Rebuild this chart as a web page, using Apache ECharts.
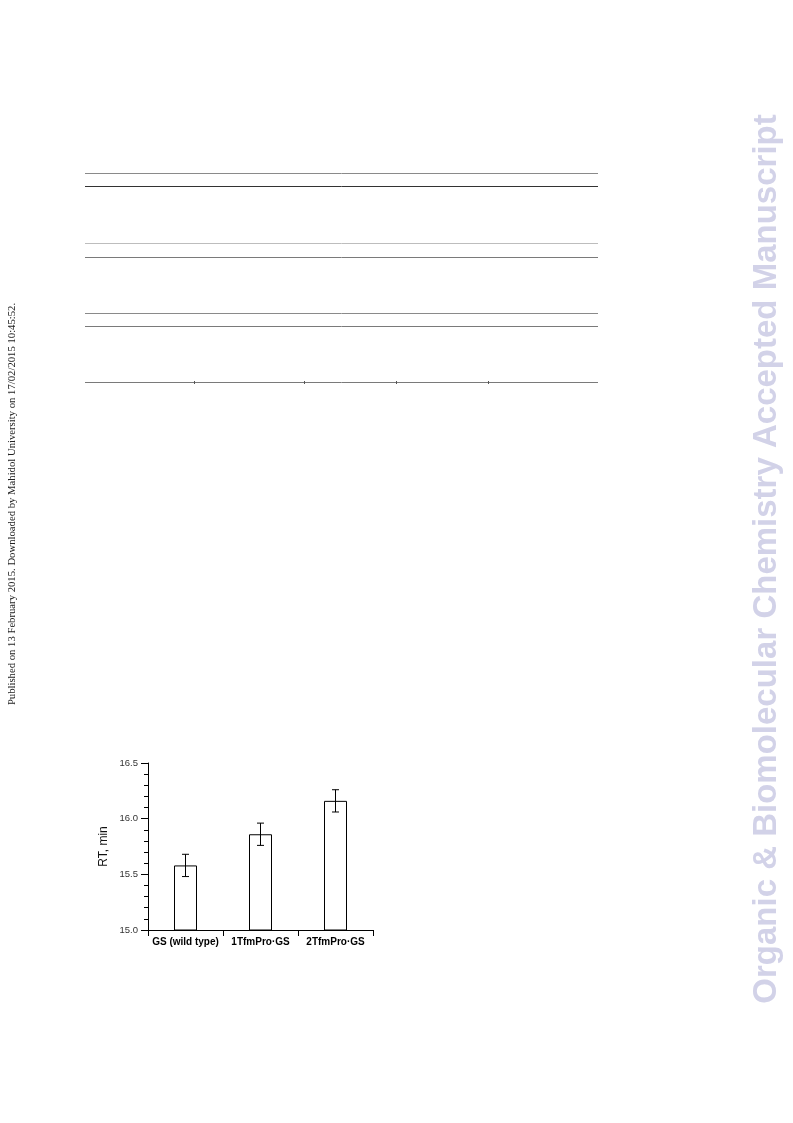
<!DOCTYPE html>
<html>
<head>
<meta charset="utf-8">
<script src="https://cdn.jsdelivr.net/npm/echarts@6/dist/echarts.min.js"></script>
<style>
html,body{margin:0;padding:0;background:#fff;}
#chart{width:793px;height:1123px;}
</style>
</head>
<body>
<div id="chart"></div>
<script>
// Data
var categories = ['GS (wild type)', '1TfmPro\u00B7GS', '2TfmPro\u00B7GS'];
var rtValues = [15.58, 15.86, 16.16];
var rtErrors = [0.10, 0.10, 0.10];
var yTicks = { min: 15.0, max: 16.5, interval: 0.5 };
var yAxisName = 'RT, min';
var sideNote = 'Published on 13 February 2015. Downloaded by Mahidol University on 17/02/2015 10:45:52.';
var watermark = 'Organic & Biomolecular Chemistry Accepted Manuscript';

var errorData = categories.map(function (c, i) {
  return [i, rtValues[i] - rtErrors[i], rtValues[i] + rtErrors[i]];
});

// Decorative table rules at the top of the page
var rules = [
  { y: 173, c: '#8a8a8a' },
  { y: 186, c: '#333333' },
  { y: 243, c: '#bdbdbd' },
  { y: 257, c: '#7a7a7a' },
  { y: 313, c: '#8a8a8a' },
  { y: 326, c: '#7a7a7a' },
  { y: 382, c: '#7a7a7a' }
];
var graphics = rules.map(function (r) {
  return { type: 'line', silent: true, shape: { x1: 85, y1: r.y + 0.5, x2: 598, y2: r.y + 0.5 }, style: { stroke: r.c, lineWidth: 1 } };
});
[194, 304, 396, 488].forEach(function (x) {
  graphics.push({ type: 'line', silent: true, shape: { x1: x + 0.5, y1: 381, x2: x + 0.5, y2: 384 }, style: { stroke: '#555', lineWidth: 1 } });
});
graphics.push({
  type: 'text', silent: true, x: 12, y: 504, rotation: Math.PI / 2,
  style: { text: sideNote, font: '10.7px "Liberation Serif", "Times New Roman", serif', fill: '#222', textAlign: 'center', textVerticalAlign: 'middle' }
});
graphics.push({
  type: 'text', silent: true, x: 767, y: 559, rotation: Math.PI / 2,
  style: { text: watermark, font: 'bold 33px "Liberation Sans", Arial, sans-serif', fill: '#d2d2e8', textAlign: 'center', textVerticalAlign: 'middle' }
});

var chart = echarts.init(document.getElementById('chart'), null, { renderer: 'canvas' });
chart.setOption({
  animation: false,
  backgroundColor: '#fff',
  graphic: graphics,
  grid: { left: 148, right: 420, top: 763, bottom: 193, containLabel: false },
  xAxis: {
    type: 'category',
    data: categories,
    boundaryGap: true,
    axisLine: { lineStyle: { color: '#000', width: 1 } },
    axisTick: { show: true, length: 6, inside: false, lineStyle: { color: '#000' } },
    axisLabel: { interval: 0, color: '#000', fontWeight: 'bold', fontSize: 10, fontFamily: '"Liberation Sans", Arial, sans-serif', margin: 7 }
  },
  yAxis: {
    type: 'value',
    min: yTicks.min,
    max: yTicks.max,
    interval: yTicks.interval,
    name: yAxisName,
    nameLocation: 'middle',
    nameGap: 38,
    nameTextStyle: { color: '#111', fontSize: 12, fontFamily: '"Liberation Sans", Arial, sans-serif' },
    axisLine: { show: true, lineStyle: { color: '#000', width: 1 } },
    axisTick: { show: true, length: 7, lineStyle: { color: '#000' } },
    minorTick: { show: true, splitNumber: 5, length: 4, lineStyle: { color: '#000' } },
    splitLine: { show: false },
    axisLabel: { color: '#333', fontSize: 9.5, fontFamily: '"Liberation Sans", Arial, sans-serif', margin: 10,
      formatter: function (v) { return v.toFixed(1); } }
  },
  series: [
    {
      type: 'bar',
      data: rtValues,
      barWidth: 23,
      itemStyle: { color: '#fff', borderColor: '#000', borderWidth: 1 }
    },
    {
      type: 'custom',
      data: errorData,
      z: 10,
      renderItem: function (params, api) {
        var x = api.coord([api.value(0), api.value(1)])[0];
        var lo = api.coord([api.value(0), api.value(1)])[1];
        var hi = api.coord([api.value(0), api.value(2)])[1];
        var w = 3.5;
        var style = { stroke: '#000', lineWidth: 1 };
        return {
          type: 'group',
          children: [
            { type: 'line', shape: { x1: x, y1: lo, x2: x, y2: hi }, style: style },
            { type: 'line', shape: { x1: x - w, y1: hi, x2: x + w, y2: hi }, style: style },
            { type: 'line', shape: { x1: x - w, y1: lo, x2: x + w, y2: lo }, style: style }
          ]
        };
      }
    }
  ]
});
</script>
</body>
</html>
